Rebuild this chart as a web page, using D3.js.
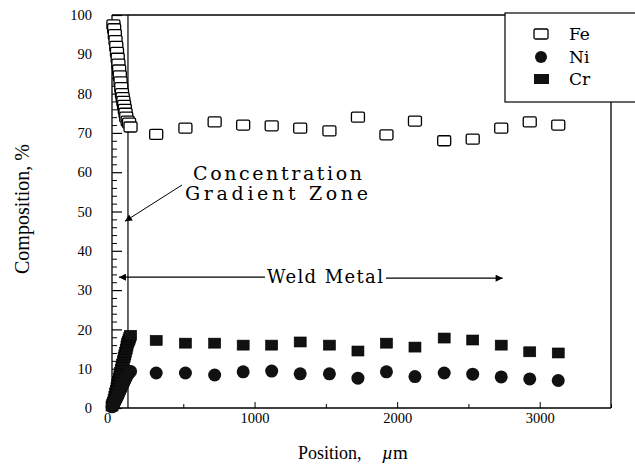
<!DOCTYPE html>
<html>
<head>
<meta charset="utf-8">
<script src="https://cdn.jsdelivr.net/npm/d3@7"></script>
<style>
  body { margin: 0; background: #fff; }
  svg { display: block; }
  .serif { font-family: "Liberation Serif", "Times New Roman", serif; }
  .deco { font-family: "DejaVu Serif", serif; }
</style>
</head>
<body>
<script>
// Weld metal traverse: position (µm) and composition (%) of each element
const positionUm = [310, 515, 720, 920, 1120, 1320, 1525, 1725, 1925, 2125, 2330, 2530, 2730, 2930, 3130];
const feWeld = [69.6, 71.2, 72.8, 72.0, 71.8, 71.2, 70.5, 74.0, 69.5, 73.0, 68.0, 68.4, 71.2, 72.8, 72.0];
const niWeld = [8.9, 8.9, 8.4, 9.2, 9.4, 8.7, 8.7, 7.6, 9.2, 8.0, 8.9, 8.6, 7.9, 7.4, 7.0];
const crWeld = [17.2, 16.5, 16.5, 16.0, 16.0, 16.8, 16.0, 14.5, 16.5, 15.5, 17.8, 17.3, 16.0, 14.3, 14.0];

// Concentration gradient zone next to the fusion line (fine step traverse)
const feGradX = [10, 15, 20, 25, 30, 35, 40, 45, 50, 55, 60, 65, 70, 75, 80, 85, 90, 95, 100, 110, 120, 130];
const feGradVal = [97.5, 96.5, 95, 93.5, 92, 90.5, 89, 87.5, 86, 84.5, 83, 81.5, 80, 79, 78, 77, 76, 75, 74, 73, 72.5, 71.5];
const gradX = [0, 5, 10, 15, 20, 25, 30, 35, 40, 45, 50, 55, 60, 65, 70, 75, 80, 85, 90, 95, 100, 105, 110, 115, 120, 125, 130];
const niGradVal = [0.3, 0.5, 0.8, 1.1, 1.5, 1.9, 2.2, 2.6, 3.0, 3.4, 3.8, 4.2, 4.6, 5.0, 5.4, 5.8, 6.2, 6.6, 7.0, 7.4, 7.8, 8.2, 8.5, 8.8, 9.0, 9.2, 9.3];
const crGradVal = [0.5, 1.0, 1.5, 2.2, 3.0, 3.8, 4.5, 5.2, 6.0, 6.8, 7.5, 8.2, 9.0, 9.8, 10.5, 11.2, 12.0, 12.8, 13.5, 14.2, 15.0, 15.8, 16.5, 17.0, 17.5, 18.0, 18.5];

// Axis ticks and labels
const xTicks = [0, 1000, 2000, 3000];
const xMinorTicks = [500, 1500, 2500, 3500];
const yTicks = [0, 10, 20, 30, 40, 50, 60, 70, 80, 90, 100];
const yMinorTicks = d3.range(0, 101, 2).filter(v => v % 10 !== 0);
const xLabel = "Position,";
const xUnit = "µm";
const yLabel = "Composition, %";
const seriesNames = ["Fe", "Ni", "Cr"];

// Annotation anchors (data units)
const fusionLineUm = 112;
const gradientArrowY = 47.5;
const weldArrowY = 33.3;
const weldArrowEndUm = 2740;

const W = 635, H = 475;
const svg = d3.select("body").append("svg").attr("width", W).attr("height", H);

const x = d3.scaleLinear().domain([0, 3500]).range([112, 611]);
const y = d3.scaleLinear().domain([0, 100]).range([408, 15]);

// frame
const frame = svg.append("g").attr("stroke", "#000").attr("fill", "none").attr("stroke-width", 1.3);
frame.append("line").attr("x1", x(0)).attr("x2", x(0)).attr("y1", y(100)).attr("y2", y(0));
frame.append("line").attr("x1", x(0)).attr("x2", x(3500)).attr("y1", y(0)).attr("y2", y(0));
frame.append("line").attr("x1", x(0)).attr("x2", 505).attr("y1", y(100)).attr("y2", y(100));
frame.append("line").attr("x1", x(3500)).attr("x2", x(3500)).attr("y1", 102).attr("y2", y(0));

// y axis: major + minor inward ticks
const yAxis = d3.axisLeft(y).tickValues(yTicks).tickSize(-10).tickPadding(20).tickFormat(d3.format("d"));
const gy = svg.append("g").attr("transform", `translate(${x(0)},0)`).call(yAxis);
gy.attr("font-family", null).attr("font-size", null);
gy.select(".domain").remove();
gy.selectAll("line").attr("stroke-width", 1.2);
gy.selectAll("text").attr("class", "serif").style("font-size", "14.5px").attr("fill", "#000");
const gyMinor = svg.append("g").attr("transform", `translate(${x(0)},0)`)
  .call(d3.axisLeft(y).tickValues(yMinorTicks).tickSize(-5).tickFormat(""));
gyMinor.select(".domain").remove();

// x axis
const xAxis = d3.axisBottom(x).tickValues(xTicks).tickSize(-6).tickPadding(5).tickFormat(d3.format("d"));
const gx = svg.append("g").attr("transform", `translate(0,${y(0)})`).call(xAxis);
gx.attr("font-family", null).attr("font-size", null);
gx.select(".domain").remove();
gx.selectAll("text").attr("class", "serif").style("font-size", "14.5px").attr("fill", "#000");
gx.selectAll(".tick").filter(d => d === 0).select("text").attr("dx", -5);
const gxMinor = svg.append("g").attr("transform", `translate(0,${y(0)})`)
  .call(d3.axisBottom(x).tickValues(xMinorTicks).tickSize(-4).tickFormat(""));
gxMinor.select(".domain").remove();

// axis titles
svg.append("text").attr("class", "serif").attr("x", 298).attr("y", 459)
  .style("font-size", "18px").text(xLabel);
svg.append("text").attr("class", "serif").attr("x", 382).attr("y", 459)
  .style("font-size", "19px")
  .call(t => {
    t.append("tspan").style("font-style", "italic").text(xUnit[0]);
    t.append("tspan").text(xUnit.slice(1));
  });
svg.append("text").attr("class", "serif")
  .attr("transform", "translate(29,209) rotate(-90)")
  .attr("text-anchor", "middle")
  .style("font-size", "20px")
  .text(yLabel);

// fusion line
svg.append("line")
  .attr("x1", x(fusionLineUm)).attr("x2", x(fusionLineUm))
  .attr("y1", y(100)).attr("y2", y(0))
  .attr("stroke", "#000").attr("stroke-width", 1.2);

// markers
const sqW = 13, sqH = 10, cr = 6.5;
const plot = svg.append("g");

function hollowSquares(xs, vs) {
  plot.append("g").selectAll("rect").data(xs.map((d, i) => [d, vs[i]])).join("rect")
    .attr("x", d => x(d[0]) - sqW / 2).attr("y", d => y(d[1]) - sqH / 2)
    .attr("width", sqW).attr("height", sqH).attr("rx", 1.5)
    .attr("fill", "#fff").attr("stroke", "#000").attr("stroke-width", 1.3);
}
function filledSquares(xs, vs) {
  plot.append("g").selectAll("rect").data(xs.map((d, i) => [d, vs[i]])).join("rect")
    .attr("x", d => x(d[0]) - 6).attr("y", d => y(d[1]) - 5)
    .attr("width", 12).attr("height", 10)
    .attr("fill", "#111").attr("stroke", "#000").attr("stroke-width", 0.6);
}
function dots(xs, vs) {
  plot.append("g").selectAll("circle").data(xs.map((d, i) => [d, vs[i]])).join("circle")
    .attr("cx", d => x(d[0])).attr("cy", d => y(d[1])).attr("r", cr)
    .attr("fill", "#111");
}

hollowSquares(feGradX, feGradVal);
filledSquares(gradX, crGradVal);
dots(gradX, niGradVal);
hollowSquares(positionUm, feWeld);
filledSquares(positionUm, crWeld);
dots(positionUm, niWeld);

// arrowheads
const defs = svg.append("defs");
defs.append("marker").attr("id", "head").attr("viewBox", "0 0 10 10")
  .attr("refX", 10).attr("refY", 5).attr("markerWidth", 9).attr("markerHeight", 7)
  .attr("markerUnits", "userSpaceOnUse").attr("orient", "auto")
  .append("path").attr("d", "M0,0 L10,5 L0,10 Z").attr("fill", "#000");

// Concentration Gradient Zone label + pointer
svg.append("text").attr("class", "deco").attr("x", 193).attr("y", 180)
  .style("font-size", "19px")
  .attr("textLength", 169).attr("lengthAdjust", "spacing").text("Concentration");
svg.append("text").attr("class", "deco").attr("x", 185).attr("y", 200)
  .style("font-size", "19px")
  .attr("textLength", 183).attr("lengthAdjust", "spacing").text("Gradient Zone");
svg.append("line")
  .attr("x1", 182).attr("y1", 185)
  .attr("x2", x(fusionLineUm) - 3).attr("y2", y(gradientArrowY))
  .attr("stroke", "#000").attr("stroke-width", 1).attr("marker-end", "url(#head)");

// Weld Metal label + span arrows
svg.append("text").attr("class", "deco").attr("x", 267).attr("y", 283)
  .style("font-size", "18px")
  .attr("textLength", 116).attr("lengthAdjust", "spacing").text("Weld Metal");
svg.append("line")
  .attr("x1", 265).attr("y1", y(weldArrowY))
  .attr("x2", x(fusionLineUm) - 9).attr("y2", y(weldArrowY))
  .attr("stroke", "#000").attr("stroke-width", 1.1).attr("marker-end", "url(#head)");
svg.append("line")
  .attr("x1", 386).attr("y1", y(weldArrowY) + 1)
  .attr("x2", x(weldArrowEndUm)).attr("y2", y(weldArrowY) + 1)
  .attr("stroke", "#000").attr("stroke-width", 1.1).attr("marker-end", "url(#head)");

// legend
const lg = svg.append("g");
lg.append("rect").attr("x", 505).attr("y", 13).attr("width", 150).attr("height", 89)
  .attr("fill", "#fff").attr("stroke", "#000").attr("stroke-width", 1.2);
const legendY = [34, 57, 79];
seriesNames.forEach((name, i) => {
  const cy = legendY[i];
  if (i === 0) {
    lg.append("rect").attr("x", 534).attr("y", cy - 5).attr("width", 14).attr("height", 10)
      .attr("rx", 1.5).attr("fill", "#fff").attr("stroke", "#000").attr("stroke-width", 1.3);
  } else if (i === 1) {
    lg.append("circle").attr("cx", 541).attr("cy", cy).attr("r", 6).attr("fill", "#111");
  } else {
    lg.append("rect").attr("x", 534).attr("y", cy - 5).attr("width", 15).attr("height", 10).attr("fill", "#111");
  }
  lg.append("text").attr("class", "deco").attr("x", 569).attr("y", cy + 6)
    .style("font-size", "17px").text(name);
});
</script>
</body>
</html>
